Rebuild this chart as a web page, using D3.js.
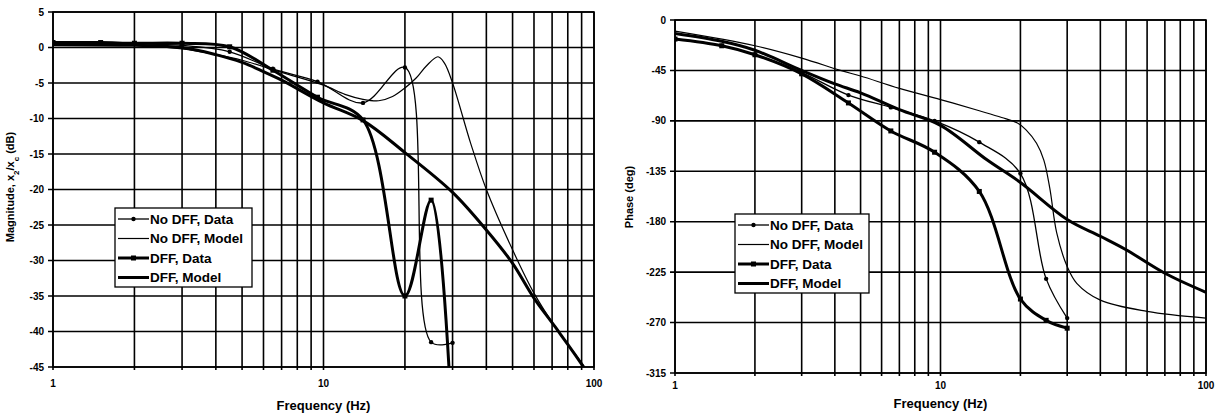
<!DOCTYPE html>
<html>
<head>
<meta charset="utf-8">
<script src="https://cdn.jsdelivr.net/npm/d3@7"></script>
<style>
  body { margin: 0; background: #fff; }
  svg { display: block; }
  text { font-family: "Liberation Sans", Arial, sans-serif; font-weight: bold; fill: #000; }
</style>
</head>
<body>
<svg width="1218" height="416"></svg>
<script>
// series names (legend order)
const seriesNames = ["No DFF, Data", "No DFF, Model", "DFF, Data", "DFF, Model"];

// measured frequencies (Hz)
const dataFreq = [1, 1.5, 2, 3, 4.5, 6.5, 9.5, 14, 20, 25, 30];

// magnitude (dB)
const magNoDffData = [0.6, 0.6, 0.5, 0.3, -0.6, -3.0, -4.8, -7.8, -2.8, -41.5, -41.6];
const magDffData   = [0.7, 0.7, 0.6, 0.6, 0.1, -3.2, -7.0, -10.2, -35, -21.5, -55];
const magNoDffModelFreq = [1, 2, 3, 4, 5, 7, 10, 12, 14, 16, 18, 20, 22, 24, 26.5, 28, 30, 35, 40, 50, 60, 72, 90, 100];
const magNoDffModel     = [0.5, 0.3, -0.2, -1.0, -1.8, -3.5, -5.3, -6.6, -7.3, -7.5, -6.9, -5.7, -4.3, -2.6, -1.3, -2.2, -5.0, -13.5, -20, -28.5, -34.6, -39.4, -44.4, -47];
const magDffModelFreq = [1, 2, 3, 4, 5, 6, 7, 10, 14, 20, 30, 40, 50, 60, 72, 90, 100];
const magDffModel     = [0.4, 0.3, 0, -1.0, -2.1, -3.4, -4.6, -7.8, -10.3, -14.8, -20.4, -25.7, -30.4, -35.3, -39.4, -44.6, -47.5];

// phase (deg)
const phaseNoDffData = [-17, -23, -31, -47, -67, -78, -90, -109, -137, -231, -266];
const phaseDffData   = [-17, -23, -31, -48, -74, -99, -118, -153, -249, -268, -275];
const phaseNoDffModelFreq = [1, 2, 3, 4.2, 5, 7, 10, 14, 17, 19.5, 21, 23, 24.5, 25.8, 27.4, 30, 32.6, 40, 60, 100];
const phaseNoDffModel     = [-10, -23, -34, -45, -50, -61, -71, -81, -87, -92, -98, -110, -125, -150, -190, -220, -235, -250, -260, -266];
const phaseDffModelFreq = [1, 1.5, 2, 3, 4, 5, 7, 10, 15, 20, 30, 40, 50, 70, 100];
const phaseDffModel     = [-12, -19, -27, -45, -57, -65, -80, -94, -125, -145, -178, -193, -205, -226, -243];

// ticks
const freqTicks = [1, 10, 100];
const magTicks = [5, 0, -5, -10, -15, -20, -25, -30, -35, -40, -45];
const phaseTicks = [0, -45, -90, -135, -180, -225, -270, -315];

const svg = d3.select("svg");

// line look for each series
const styles = [
  { width: 1.3, marker: "dot" },
  { width: 1.2, marker: null },
  { width: 3, marker: "square" },
  { width: 3, marker: null }
];

function zip(xs, ys) { return xs.map((v, i) => [v, ys[i]]); }

function drawPanel(p) {
  const x = d3.scaleLog().domain([1, 100]).range([p.left, p.right]);
  const y = d3.scaleLinear()
    .domain([p.yTicks[p.yTicks.length - 1], p.yTicks[0]])
    .range([p.bottom, p.top]);

  const g = svg.append("g");

  g.append("clipPath").attr("id", "clip-" + p.id)
    .append("rect")
    .attr("x", p.left).attr("y", p.top)
    .attr("width", p.right - p.left).attr("height", p.bottom - p.top);

  // grid
  g.selectAll(".vgrid").data(x.ticks()).join("line")
    .attr("class", "vgrid")
    .attr("x1", d => x(d)).attr("x2", d => x(d))
    .attr("y1", p.top).attr("y2", p.bottom + 3)
    .attr("stroke", "#000").attr("stroke-width", 1.6);

  g.selectAll(".hgrid").data(p.yTicks).join("line")
    .attr("class", "hgrid")
    .attr("x1", p.left - 5).attr("x2", p.right)
    .attr("y1", d => y(d)).attr("y2", d => y(d))
    .attr("stroke", "#000").attr("stroke-width", 1.6);

  g.append("rect")
    .attr("x", p.left).attr("y", p.top)
    .attr("width", p.right - p.left).attr("height", p.bottom - p.top)
    .attr("fill", "none").attr("stroke", "#000").attr("stroke-width", 1.6);

  // tick labels
  g.selectAll(".ylab").data(p.yTicks).join("text")
    .attr("class", "ylab")
    .attr("x", p.left - 9).attr("y", d => y(d) + 3.5)
    .attr("text-anchor", "end").style("font-size", "10px")
    .text(d => d);

  g.selectAll(".xlab").data(freqTicks).join("text")
    .attr("class", "xlab")
    .attr("x", d => x(d)).attr("y", p.bottom + p.xLabGap)
    .attr("text-anchor", "middle").style("font-size", "10px")
    .text(d => d);

  // axis titles
  g.append("text")
    .attr("x", (p.left + p.right) / 2).attr("y", p.xTitleY)
    .attr("text-anchor", "middle").style("font-size", "13px")
    .text("Frequency (Hz)");

  const yt = g.append("text")
    .attr("transform", `translate(${p.yTitleX},${p.yTitleY}) rotate(-90)`)
    .attr("text-anchor", "middle").style("font-size", "11px");
  p.yTitle.forEach(part => {
    const t = yt.append("tspan").text(part.text);
    if (part.sub) t.attr("baseline-shift", "sub").style("font-size", "8px");
  });

  // curves
  const line = d3.line()
    .x(d => x(d[0])).y(d => y(d[1]))
    .curve(d3.curveCatmullRom.alpha(0.5));

  const plot = g.append("g").attr("clip-path", `url(#clip-${p.id})`);
  p.series.forEach((pts, i) => {
    plot.append("path")
      .datum(pts)
      .attr("d", line)
      .attr("fill", "none").attr("stroke", "#000")
      .attr("stroke-width", styles[i].width)
      .attr("stroke-linejoin", "round");
    if (styles[i].marker === "dot") {
      plot.selectAll(".m" + i).data(pts).join("circle")
        .attr("class", "m" + i)
        .attr("cx", d => x(d[0])).attr("cy", d => y(d[1])).attr("r", 2.2)
        .attr("fill", "#000");
    } else if (styles[i].marker === "square") {
      plot.selectAll(".m" + i).data(pts).join("rect")
        .attr("class", "m" + i)
        .attr("x", d => x(d[0]) - 2.5).attr("y", d => y(d[1]) - 2.5)
        .attr("width", 5).attr("height", 5)
        .attr("fill", "#000");
    }
  });

  // legend
  const lg = g.append("g").attr("transform", `translate(${p.legend[0]},${p.legend[1]})`);
  lg.append("rect")
    .attr("width", p.legend[2]).attr("height", 79)
    .attr("fill", "#fff").attr("stroke", "#000").attr("stroke-width", 1.3);
  seriesNames.forEach((name, i) => {
    const cy = 11 + i * 19.5;
    lg.append("line")
      .attr("x1", 3).attr("x2", 34).attr("y1", cy).attr("y2", cy)
      .attr("stroke", "#000").attr("stroke-width", styles[i].width);
    if (styles[i].marker === "dot") {
      lg.append("circle").attr("cx", 18.5).attr("cy", cy).attr("r", 2.2).attr("fill", "#000");
    } else if (styles[i].marker === "square") {
      lg.append("rect").attr("x", 16).attr("y", cy - 2.5).attr("width", 5).attr("height", 5).attr("fill", "#000");
    }
    lg.append("text")
      .attr("x", 35).attr("y", cy + 4.8)
      .style("font-size", "13.5px")
      .text(name);
  });
}

drawPanel({
  id: "mag",
  left: 53, right: 594, top: 12, bottom: 367,
  yTicks: magTicks,
  xLabGap: 20, xTitleY: 410, yTitleX: 14, yTitleY: 187,
  yTitle: [{ text: "Magnitude, x" }, { text: "2", sub: true }, { text: "/x" }, { text: "c", sub: true }, { text: " (dB)" }],
  series: [
    zip(dataFreq, magNoDffData),
    zip(magNoDffModelFreq, magNoDffModel),
    zip(dataFreq, magDffData),
    zip(magDffModelFreq, magDffModel)
  ],
  legend: [115, 208, 137]
});

drawPanel({
  id: "phase",
  left: 675, right: 1206, top: 20, bottom: 373,
  yTicks: phaseTicks,
  xLabGap: 16, xTitleY: 408, yTitleX: 633, yTitleY: 197,
  yTitle: [{ text: "Phase (deg)" }],
  series: [
    zip(dataFreq, phaseNoDffData),
    zip(phaseNoDffModelFreq, phaseNoDffModel),
    zip(dataFreq, phaseDffData),
    zip(phaseDffModelFreq, phaseDffModel)
  ],
  legend: [735, 214, 134]
});
</script>
</body>
</html>
